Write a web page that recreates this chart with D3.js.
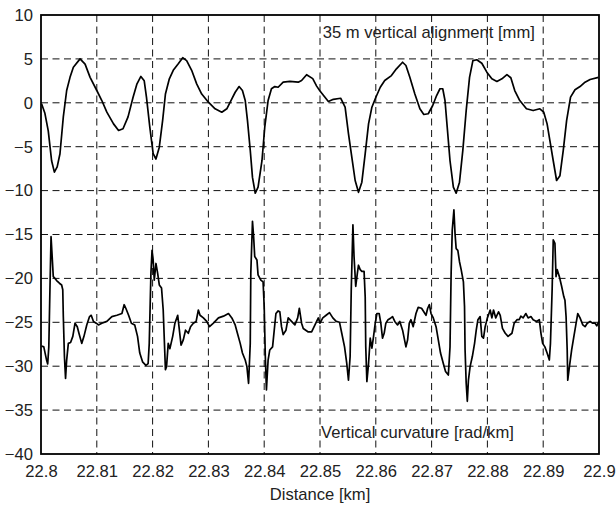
<!DOCTYPE html>
<html>
<head>
<meta charset="utf-8">
<script src="https://cdn.jsdelivr.net/npm/d3@7"></script>
<style>
  html, body { margin: 0; padding: 0; background: #fff; }
  svg text { font-family: "Liberation Sans", Arial, sans-serif; }
</style>
</head>
<body>
<svg id="chart" width="616" height="506"></svg>
<script>
// Tick values for both axes
const xTicks = [22.8, 22.81, 22.82, 22.83, 22.84, 22.85, 22.86, 22.87, 22.88, 22.89, 22.9];
const yTicks = [10, 5, 0, -5, -10, -15, -20, -25, -30, -35, -40];

// 35 m vertical alignment [mm] along the track
const alignDist = [22.8001, 22.8007, 22.8013, 22.8019, 22.8024, 22.8029, 22.8034, 22.8040, 22.8046, 22.8052,
  22.8058, 22.8070, 22.8079, 22.8088, 22.8100, 22.8109, 22.8118, 22.8130, 22.8139, 22.8147,
  22.8156, 22.8165, 22.8172, 22.8179, 22.8185, 22.8189, 22.8195, 22.8201, 22.8206, 22.8212,
  22.8218, 22.8223, 22.8230, 22.8237, 22.8246, 22.8254, 22.8261, 22.8270, 22.8279, 22.8288,
  22.8300, 22.8312, 22.8324, 22.8333, 22.8342, 22.8348, 22.8355, 22.8361, 22.8366, 22.8370,
  22.8375, 22.8379, 22.8384, 22.8389, 22.8396, 22.8401, 22.8407, 22.8413, 22.8419, 22.8425,
  22.8434, 22.8446, 22.8461, 22.8467, 22.8476, 22.8487, 22.8494, 22.8500, 22.8515, 22.8524,
  22.8537, 22.8545, 22.8551, 22.8557, 22.8563, 22.8569, 22.8575, 22.8581, 22.8587, 22.8593,
  22.8599, 22.8608, 22.8616, 22.8628, 22.8637, 22.8648, 22.8654, 22.8661, 22.8670, 22.8679,
  22.8686, 22.8694, 22.8702, 22.8709, 22.8715, 22.8720, 22.8724, 22.8728, 22.8733, 22.8739,
  22.8744, 22.8750, 22.8756, 22.8762, 22.8768, 22.8774, 22.8781, 22.8790, 22.8799, 22.8808,
  22.8817, 22.8826, 22.8835, 22.8842, 22.8849, 22.8858, 22.8870, 22.8882, 22.8894, 22.8901,
  22.8907, 22.8912, 22.8918, 22.8924, 22.8930, 22.8936, 22.8942, 22.8949, 22.8957, 22.8966,
  22.8975, 22.8984, 22.8999];
const alignVal = [-0.1, -1.2, -3.2, -6.6, -7.9, -7.3, -5.8, -1.6, 1.4, 2.9,
  4.05, 5.0, 4.4, 2.9, 1.4, 0.26, -1.07, -2.4, -3.15, -2.96,
  -1.6, 0.64, 2.16, 3.0, 2.5, 0.64, -2.78, -5.8, -6.4, -5.06,
  -2.0, 1.0, 2.73, 3.7, 4.44, 5.13, 4.8, 3.7, 2.16, 1.0,
  0.07, -0.68, -1.07, -0.68, 0.46, 1.2, 1.85, 1.4, 0.26, -2.0,
  -5.4, -8.5, -10.3, -9.6, -6.6, -2.78, 0.26, 1.6, 1.85, 1.77,
  2.35, 2.43, 2.35, 2.54, 3.2, 2.75, 1.9, 1.35, 0.15, 0.4,
  0.52, -0.5, -3.5, -6.2, -8.85, -10.2, -9.04, -5.8, -2.4, -0.5,
  0.46, 1.77, 2.54, 3.1, 3.87, 4.62, 4.25, 2.9, 1.0, -0.68,
  -1.33, -1.25, -0.31, 0.83, 1.6, 1.6, 0.26, -2.78, -6.6, -9.6,
  -10.3, -9.04, -5.4, -0.88, 2.9, 4.8, 4.9, 4.5, 3.49, 2.73,
  2.43, 2.73, 3.2, 2.85, 1.4, 0.26, -0.68, -0.88, -0.68, -1.07,
  -2.4, -4.3, -6.6, -8.85, -8.3, -5.4, -2.0, 0.64, 1.48, 1.85,
  2.35, 2.65, 2.9];

// Vertical curvature [rad/km], plotted with its offset
const curvDist = [22.8001, 22.8005, 22.8010, 22.8012, 22.8014, 22.8016, 22.8018, 22.8020, 22.8022, 22.8025,
  22.8028, 22.8033, 22.8037, 22.8039, 22.8040, 22.8042, 22.8044, 22.8046, 22.8049, 22.8053,
  22.8057, 22.8061, 22.8065, 22.8068, 22.8073, 22.8077, 22.8082, 22.8087, 22.8090, 22.8094,
  22.8099, 22.8103, 22.8109, 22.8118, 22.8127, 22.8136, 22.8145, 22.8149, 22.8152, 22.8157,
  22.8162, 22.8168, 22.8173, 22.8177, 22.8182, 22.8188, 22.8192, 22.8194, 22.8197, 22.8199,
  22.8201, 22.8203, 22.8206, 22.8209, 22.8212, 22.8216, 22.8219, 22.8221, 22.8223, 22.8225,
  22.8228, 22.8231, 22.8236, 22.8240, 22.8245, 22.8248, 22.8251, 22.8255, 22.8259, 22.8264,
  22.8268, 22.8273, 22.8278, 22.8282, 22.8285, 22.8291, 22.8297, 22.8302, 22.8309, 22.8318,
  22.8327, 22.8336, 22.8342, 22.8348, 22.8352, 22.8357, 22.8361, 22.8366, 22.8369, 22.8372,
  22.8375, 22.8376, 22.8379, 22.8381, 22.8383, 22.8387, 22.8389, 22.8394, 22.8398, 22.8400,
  22.8402, 22.8404, 22.8407, 22.8410, 22.8415, 22.8418, 22.8421, 22.8425, 22.8428, 22.8431,
  22.8434, 22.8439, 22.8443, 22.8449, 22.8455, 22.8460, 22.8463, 22.8467, 22.8470, 22.8479,
  22.8485, 22.8491, 22.8497, 22.8500, 22.8505, 22.8511, 22.8517, 22.8523, 22.8529, 22.8535,
  22.8539, 22.8544, 22.8548, 22.8551, 22.8554, 22.8556, 22.8559, 22.8561, 22.8564, 22.8567,
  22.8569, 22.8572, 22.8575, 22.8579, 22.8581, 22.8582, 22.8584, 22.8587, 22.8590, 22.8593,
  22.8596, 22.8599, 22.8602, 22.8606, 22.8609, 22.8612, 22.8615, 22.8618, 22.8622, 22.8627,
  22.8630, 22.8634, 22.8639, 22.8643, 22.8648, 22.8654, 22.8657, 22.8660, 22.8663, 22.8667,
  22.8672, 22.8676, 22.8682, 22.8686, 22.8690, 22.8693, 22.8696, 22.8699, 22.8703, 22.8708,
  22.8712, 22.8716, 22.8721, 22.8725, 22.8730, 22.8733, 22.8735, 22.8737, 22.8740, 22.8742,
  22.8744, 22.8747, 22.8750, 22.8753, 22.8757, 22.8759, 22.8760, 22.8762, 22.8764, 22.8766,
  22.8769, 22.8773, 22.8777, 22.8780, 22.8783, 22.8787, 22.8790, 22.8793, 22.8796, 22.8800,
  22.8805, 22.8808, 22.8811, 22.8815, 22.8820, 22.8823, 22.8827, 22.8832, 22.8837, 22.8844,
  22.8848, 22.8853, 22.8857, 22.8860, 22.8864, 22.8869, 22.8873, 22.8878, 22.8882, 22.8888,
  22.8893, 22.8896, 22.8899, 22.8903, 22.8907, 22.8911, 22.8913, 22.8916, 22.8918, 22.8921,
  22.8923, 22.8925, 22.8929, 22.8933, 22.8937, 22.8939, 22.8941, 22.8943, 22.8944, 22.8947,
  22.8951, 22.8955, 22.8959, 22.8962, 22.8966, 22.8971, 22.8975, 22.8979, 22.8984, 22.8989,
  22.8993, 22.8996, 22.9000];
const curvVal = [-27.7, -27.8, -29.3, -29.75, -27.8, -21.3, -15.25, -17.5, -19.8, -20.0,
  -20.25, -20.55, -20.75, -21.3, -24.35, -28.9, -31.4, -29.3, -27.4, -27.3,
  -26.6, -25.1, -25.5, -26.25, -27.4, -26.6, -25.3, -24.35, -24.2, -24.9,
  -25.1, -25.3, -25.1, -24.9, -24.35, -24.2, -24.0, -23.0, -23.4, -24.2,
  -25.1, -25.3, -26.6, -28.5, -29.5, -29.9, -29.7, -27.4, -19.4, -16.8,
  -17.9, -20.2, -18.3, -19.4, -20.75, -21.1, -23.6, -27.0, -30.4, -30.05,
  -27.4, -28.0, -26.6, -25.1, -24.2, -25.9, -27.6, -27.0, -25.9, -26.25,
  -25.5, -25.1, -24.9, -23.6, -24.2, -24.5, -24.9, -25.5, -25.1, -24.5,
  -24.3, -24.0, -24.5, -25.3, -26.25, -27.4, -28.5, -29.3, -30.05, -31.95,
  -27.4, -19.4, -13.5, -15.2, -17.5, -17.9, -19.6, -20.2, -20.4, -23.2,
  -28.9, -32.7, -29.3, -28.15, -27.8, -25.9, -24.0, -23.7, -23.8, -25.5,
  -26.4, -25.9, -24.5, -24.9, -25.3, -24.5, -23.4, -25.1, -25.7, -26.1,
  -26.1, -25.3, -24.5, -25.1, -24.5, -24.2, -23.9, -24.5, -24.9, -25.0,
  -26.25, -27.8, -29.7, -31.6, -28.9, -21.3, -13.9, -17.5, -20.9, -19.4,
  -18.5, -19.0, -19.2, -19.2, -22.1, -27.8, -31.75, -29.7, -26.8, -27.95,
  -26.6, -25.1, -24.0, -24.0, -25.1, -26.8, -26.25, -25.1, -24.7, -24.5,
  -24.35, -24.9, -25.3, -24.9, -25.9, -27.8, -27.0, -25.1, -24.7, -25.5,
  -24.0, -23.3, -23.4, -23.8, -24.2, -23.4, -23.0, -24.0, -24.5, -25.5,
  -27.0, -28.5, -29.7, -30.6, -31.0, -27.8, -19.4, -14.5, -12.2, -14.9,
  -16.6, -16.8, -18.1, -19.0, -20.4, -23.2, -28.15, -31.95, -34.0, -31.6,
  -30.05, -28.9, -27.4, -25.9, -24.7, -24.35, -26.6, -26.8, -25.5, -24.5,
  -23.6, -24.5, -23.6, -24.5, -23.8, -24.2, -25.7, -26.25, -26.6, -26.25,
  -25.1, -24.7, -24.7, -24.3, -24.5, -24.0, -24.5, -24.35, -24.7, -24.9,
  -24.7, -26.25, -27.4, -27.8, -28.5, -29.3, -27.4, -21.3, -15.6, -16.0,
  -19.8, -19.0, -19.8, -20.9, -22.1, -22.5, -24.35, -28.15, -31.6, -30.05,
  -28.15, -26.6, -25.1, -24.0, -24.5, -25.3, -25.5, -25.1, -24.9, -25.1,
  -25.1, -25.4, -24.9];

const labelTop = "35 m vertical alignment [mm]";
const labelBottom = "Vertical curvature [rad/km]";
const xTitle = "Distance [km]";

const margin = { left: 41, right: 17, top: 15, bottom: 52 };
const W = 616, H = 506;
const iw = W - margin.left - margin.right;
const ih = H - margin.top - margin.bottom;
const fontSize = 16.6;

const svg = d3.select("#chart");
const g = svg.append("g").attr("transform", `translate(${margin.left},${margin.top})`);

const x = d3.scaleLinear().domain([22.8, 22.9]).range([0, iw]);
const y = d3.scaleLinear().domain([-40, 10]).range([ih, 0]);

// dashed grid
const grid = g.append("g").attr("stroke", "#111").attr("stroke-width", 1).attr("stroke-dasharray", "7,4.5");
grid.selectAll("line.v").data(xTicks.slice(1, -1)).join("line")
  .attr("x1", d => x(d)).attr("x2", d => x(d)).attr("y1", 0).attr("y2", ih);
grid.selectAll("line.h").data(yTicks.slice(1, -1)).join("line")
  .attr("x1", 0).attr("x2", iw).attr("y1", d => y(d)).attr("y2", d => y(d));

// axis labels
const xAxis = d3.axisBottom(x).tickValues(xTicks).tickSize(0).tickPadding(11).tickFormat(d3.format("~g"));
const yAxis = d3.axisLeft(y).tickValues(yTicks).tickSize(0).tickPadding(8).tickFormat(d3.format("~g"));
const gx = g.append("g").attr("transform", `translate(0,${ih})`).call(xAxis);
const gy = g.append("g").call(yAxis);
[gx, gy].forEach(a => {
  a.select(".domain").remove();
  a.selectAll("text").attr("font-size", fontSize).attr("fill", "#222")
    .attr("font-family", "'Liberation Sans', Arial, sans-serif");
});

// curves
const line = d3.line().x(d => x(d[0])).y(d => y(d[1]));
g.append("path").datum(d3.zip(alignDist, alignVal))
  .attr("fill", "none").attr("stroke", "#000").attr("stroke-width", 1.7)
  .attr("stroke-linejoin", "round").attr("d", line);
g.append("path").datum(d3.zip(curvDist, curvVal))
  .attr("fill", "none").attr("stroke", "#000").attr("stroke-width", 1.7)
  .attr("stroke-linejoin", "round").attr("d", line);

// frame
g.append("rect").attr("x", 0).attr("y", 0).attr("width", iw).attr("height", ih)
  .attr("fill", "none").attr("stroke", "#000").attr("stroke-width", 1.8);

// in-plot labels
g.append("text").attr("x", x(22.8505)).attr("y", y(7.35))
  .attr("font-size", fontSize).attr("fill", "#222").text(labelTop);
g.append("text").attr("x", x(22.8502)).attr("y", y(-38.2))
  .attr("font-size", fontSize).attr("fill", "#222").text(labelBottom);

// x-axis title
svg.append("text").attr("x", margin.left + iw / 2).attr("y", 500)
  .attr("text-anchor", "middle").attr("font-size", fontSize).attr("fill", "#222").text(xTitle);
</script>
</body>
</html>
